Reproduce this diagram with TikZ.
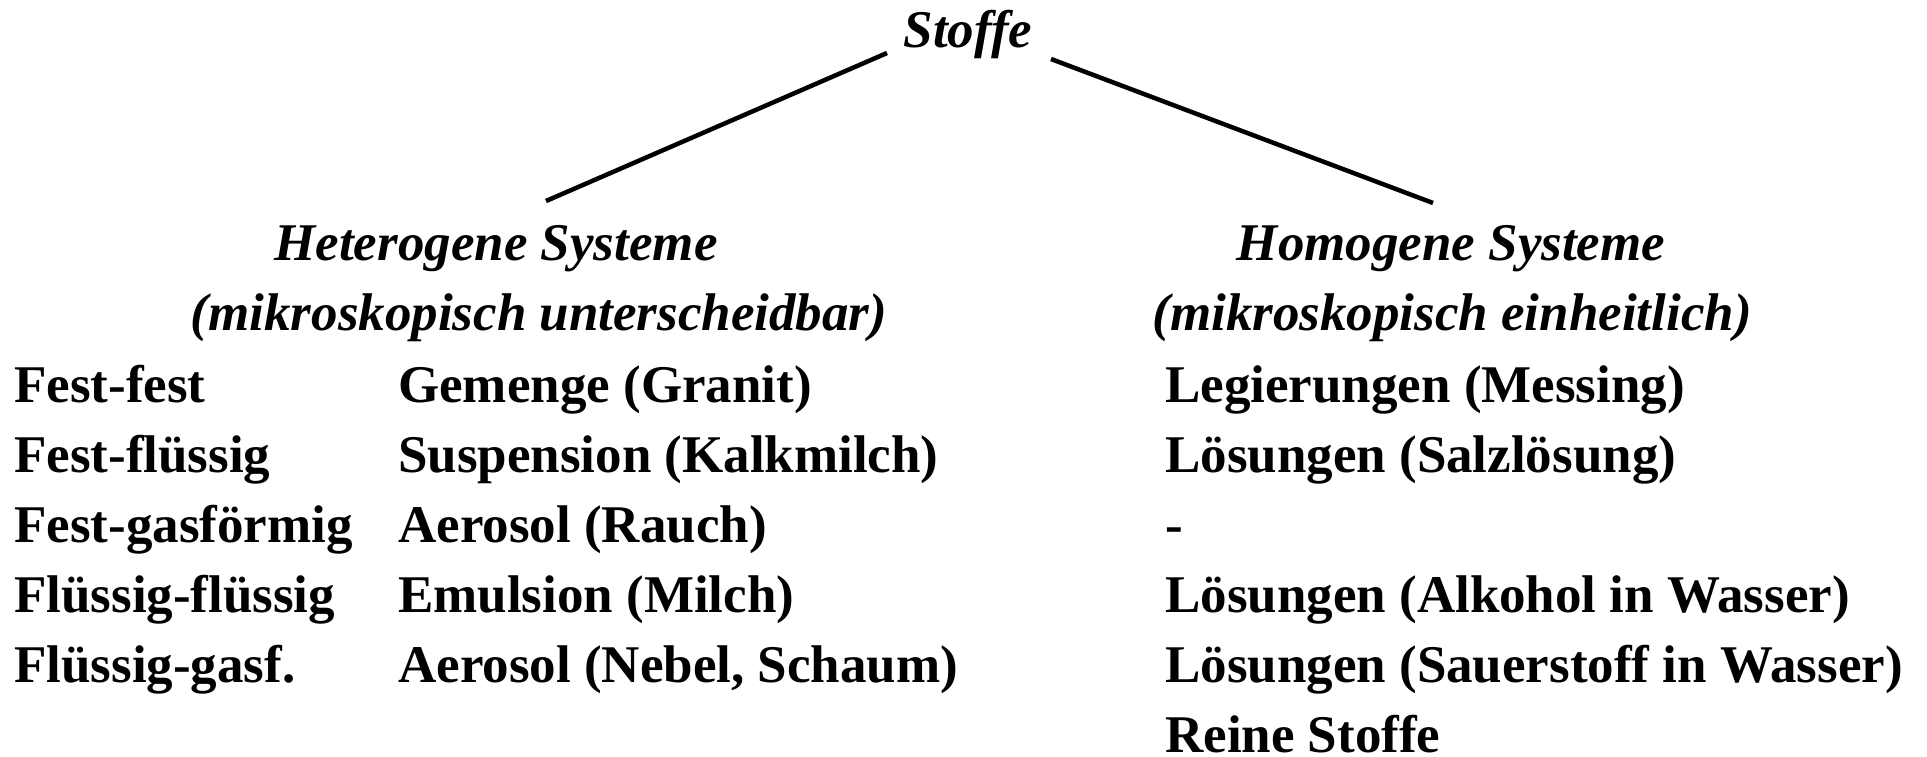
\documentclass[tikz,border=0pt]{standalone}
\usepackage{fontspec}
\setmainfont{Liberation Serif}
\begin{document}
\begin{tikzpicture}[x=1pt,y=-1pt,
  txt/.style={inner sep=0pt,anchor=base west,font=\fontsize{53}{60}\selectfont\bfseries},
  head/.style={inner sep=0pt,anchor=base,font=\fontsize{53}{60}\selectfont\bfseries\itshape},
  branch/.style={line width=4.5pt}]
\useasboundingbox (0,0) rectangle (1927,756);
\node[head] (stoffe) at (968,47) {Stoffe};
\node[head] (het1) at (496,260) {Heterogene Systeme};
\node[head] (het2) at (539,330) {(mikroskopisch unterscheidbar)};
\node[head] (hom1) at (1451,260) {Homogene Systeme};
\node[head] (hom2) at (1452,330) {(mikroskopisch einheitlich)};
\coordinate (sl) at (887,53);
\coordinate (sr) at (1051,59);
\coordinate (hl) at (546,201);
\coordinate (hr) at (1433,203);
\draw[branch] (sl) -- (hl);
\draw[branch] (sr) -- (hr);
\node[txt] (a1) at (14,402) {Fest-fest};
\node[txt] (a2) at (14,472) {Fest-flüssig};
\node[txt] (a3) at (14,542) {Fest-gasförmig};
\node[txt] (a4) at (14,612) {Flüssig-flüssig};
\node[txt] (a5) at (14,682) {Flüssig-gasf.};
\node[txt] (b1) at (398,402) {Gemenge (Granit)};
\node[txt] (b2) at (398,472) {Suspension (Kalkmilch)};
\node[txt] (b3) at (398,542) {Aerosol (Rauch)};
\node[txt] (b4) at (398,612) {Emulsion (Milch)};
\node[txt] (b5) at (398,682) {Aerosol (Nebel, Schaum)};
\node[txt] (c1) at (1165,402) {Legierungen (Messing)};
\node[txt] (c2) at (1165,472) {Lösungen (Salzlösung)};
\node[txt] (c3) at (1165,542) {-};
\node[txt] (c4) at (1165,612) {Lösungen (Alkohol in Wasser)};
\node[txt] (c5) at (1165,682) {Lösungen (Sauerstoff in Wasser)};
\node[txt] (c6) at (1165,752) {Reine Stoffe};
\end{tikzpicture}
\end{document}
